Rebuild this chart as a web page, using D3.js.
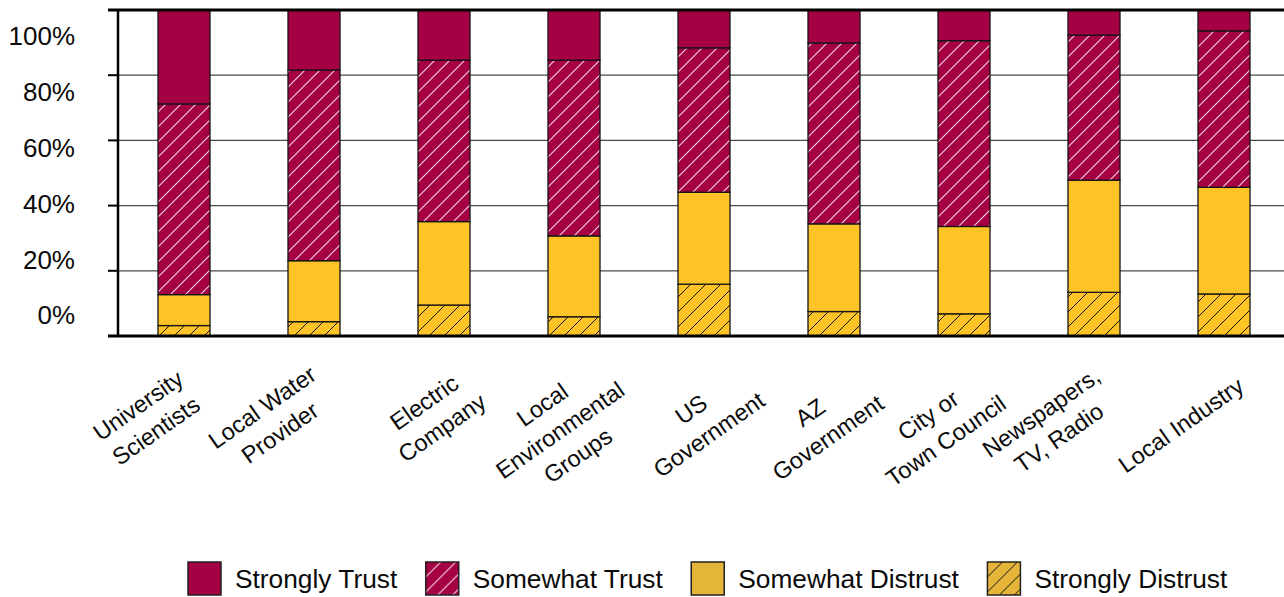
<!DOCTYPE html>
<html lang='en'>
<head>
  <meta charset='UTF-8'/>
  <title>Trust in information sources</title>
  <script src='https://d3js.org/d3.v7.min.js'></script>
  <style>
    body { margin: 0; background: #fff; }
    svg text { font-family: 'Liberation Sans', Arial, sans-serif; fill: #0a0a0a; }
  </style>
</head>
<body>
  <svg id='chart' width='1284' height='597'></svg>
<script>

// data (percent of respondents)
const categories = [
  'University Scientists', 'Local Water Provider', 'Electric Company',
  'Local Environmental Groups', 'US Government', 'AZ Government',
  'City or Town Council', 'Newspapers, TV, Radio', 'Local Industry'
];
const labelLines = [
  ['University', 'Scientists'], ['Local Water', 'Provider'], ['Electric', 'Company'],
  ['Local', 'Environmental', 'Groups'], ['US', 'Government'], ['AZ', 'Government'],
  ['City or', 'Town Council'], ['Newspapers,', 'TV, Radio'], ['Local Industry']
];
const stronglyDistrust = [3.2, 4.4, 9.5, 5.9, 15.9, 7.5, 6.8, 13.4, 12.9];
const somewhatDistrust = [9.5, 18.7, 25.6, 24.8, 28.2, 26.9, 26.8, 34.4, 32.7];
const somewhatTrust    = [58.5, 58.5, 49.5, 53.9, 44.3, 55.5, 57.0, 44.5, 48.0];
const stronglyTrust    = [28.8, 18.4, 15.4, 15.4, 11.6, 10.1, 9.4, 7.7, 6.4];
const yTicks = [0, 20, 40, 60, 80, 100];

const seriesNames = ['Strongly Distrust', 'Somewhat Distrust', 'Somewhat Trust', 'Strongly Trust'];
const legendOrder = ['Strongly Trust', 'Somewhat Trust', 'Somewhat Distrust', 'Strongly Distrust'];

// label placement nudges (the original labels are hand placed)
const labelDx = [-37, -43, -11, -14, -4, -15, -27, -44, -43];
const labelDy = [82, 84, 79, 94, 86, 89, 92, 89, 89];

const maroon = '#a50044';
const gold = '#fec326';
const goldLegend = '#e5b53a';

const rows = categories.map((c, i) => ({
  cat: c,
  'Strongly Distrust': stronglyDistrust[i],
  'Somewhat Distrust': somewhatDistrust[i],
  'Somewhat Trust': somewhatTrust[i],
  'Strongly Trust': stronglyTrust[i]
}));

const svg = d3.select('#chart');
const plotLeft = 118, plotRight = 1288, plotTop = 10, plotBottom = 336;

// patterns
const defs = svg.append('defs');
function hatch(id, bg, line, w) {
  const p = defs.append('pattern')
    .attr('id', id)
    .attr('patternUnits', 'userSpaceOnUse')
    .attr('width', 15).attr('height', 15);
  p.append('rect').attr('width', 15).attr('height', 15).attr('fill', bg);
  p.append('path')
    .attr('d', 'M0,15L15,0M-4,4L4,-4M11,19L19,11')
    .attr('stroke', line).attr('stroke-width', w);
}
hatch('trustHatch', maroon, '#f6d3df', 1.1);
hatch('distrustHatch', gold, '#111', 1);
hatch('distrustHatchLegend', goldLegend, '#111', 1);

const fills = {
  'Strongly Trust': maroon,
  'Somewhat Trust': 'url(#trustHatch)',
  'Somewhat Distrust': gold,
  'Strongly Distrust': 'url(#distrustHatch)'
};
const legendFills = {
  'Strongly Trust': maroon,
  'Somewhat Trust': 'url(#trustHatch)',
  'Somewhat Distrust': goldLegend,
  'Strongly Distrust': 'url(#distrustHatchLegend)'
};

const x = d3.scaleBand()
  .domain(categories)
  .range([plotLeft + 1, plotRight + 1])
  .paddingInner(0.6)
  .paddingOuter(0.3);

const y = d3.scaleLinear()
  .domain([0, 100])
  .range([plotBottom, plotTop]);

// the tick labels in the original sit on their own even spacing
const yLabel = d3.scaleLinear()
  .domain([0, 100])
  .range([315, 36]);

// gridlines
svg.append('g')
  .selectAll('line')
  .data(yTicks.filter(d => d > 0 && d < 100))
  .join('line')
    .attr('x1', plotLeft).attr('x2', 1284)
    .attr('y1', d => y(d)).attr('y2', d => y(d))
    .attr('stroke', '#4a4a4a').attr('stroke-width', 1.2);

// stacked bars
const stack = d3.stack().keys(seriesNames);
const layers = stack(rows);

svg.append('g')
  .selectAll('g')
  .data(layers)
  .join('g')
    .attr('fill', d => fills[d.key])
  .selectAll('rect')
  .data(d => d)
  .join('rect')
    .attr('x', d => x(d.data.cat))
    .attr('width', x.bandwidth())
    .attr('y', d => y(d[1]))
    .attr('height', d => y(d[0]) - y(d[1]))
    .attr('stroke', '#151515')
    .attr('stroke-width', 1.3);

// axis frame
svg.append('g')
  .selectAll('line')
  .data(yTicks.filter(d => d > 0 && d < 100))
  .join('line')
    .attr('x1', 108).attr('x2', plotLeft)
    .attr('y1', d => y(d)).attr('y2', d => y(d))
    .attr('stroke', '#000').attr('stroke-width', 2);

svg.append('line')
  .attr('x1', plotLeft).attr('x2', plotLeft)
  .attr('y1', y(100)).attr('y2', y(0))
  .attr('stroke', '#000').attr('stroke-width', 2.5);

svg.append('line')
  .attr('x1', 108).attr('x2', 1284)
  .attr('y1', y(100)).attr('y2', y(100))
  .attr('stroke', '#000').attr('stroke-width', 3);

svg.append('line')
  .attr('x1', 108).attr('x2', 1284)
  .attr('y1', y(0)).attr('y2', y(0))
  .attr('stroke', '#000').attr('stroke-width', 3);

// y labels
svg.append('g')
  .selectAll('text')
  .data(yTicks)
  .join('text')
    .attr('x', 75)
    .attr('y', d => yLabel(d))
    .attr('dy', '0.36em')
    .attr('text-anchor', 'end')
    .style('font-size', '26px')
    .text(d => d + '%');

// x labels, rotated
const lineH = 31;
const xl = svg.append('g')
  .selectAll('g')
  .data(categories)
  .join('g')
    .attr('transform', (d, i) =>
      `translate(${x(d) + x.bandwidth() / 2 + labelDx[i]},${plotBottom + labelDy[i]}) rotate(-35)`);

xl.selectAll('text')
  .data((d, i) => labelLines[i].map((t, j, a) => ({ t, off: j - (a.length - 1) / 2 })))
  .join('text')
    .attr('text-anchor', 'middle')
    .attr('y', d => d.off * lineH)
    .attr('dy', '0.35em')
    .style('font-size', '23.5px')
    .text(d => d.t);

// legend
const legend = svg.append('g').attr('transform', 'translate(188,562)');
let lx = 0;
legendOrder.forEach(name => {
  const g = legend.append('g').attr('transform', `translate(${lx},0)`);
  g.append('rect')
    .attr('width', 33).attr('height', 33)
    .attr('fill', legendFills[name])
    .attr('stroke', '#222').attr('stroke-width', 1.5);
  const t = g.append('text')
    .attr('x', 47).attr('y', 17)
    .attr('dy', '0.36em')
    .style('font-size', '26.3px')
    .text(name);
  lx += 47 + t.node().getComputedTextLength() + 28.5;
});

</script>
</body>
</html>
